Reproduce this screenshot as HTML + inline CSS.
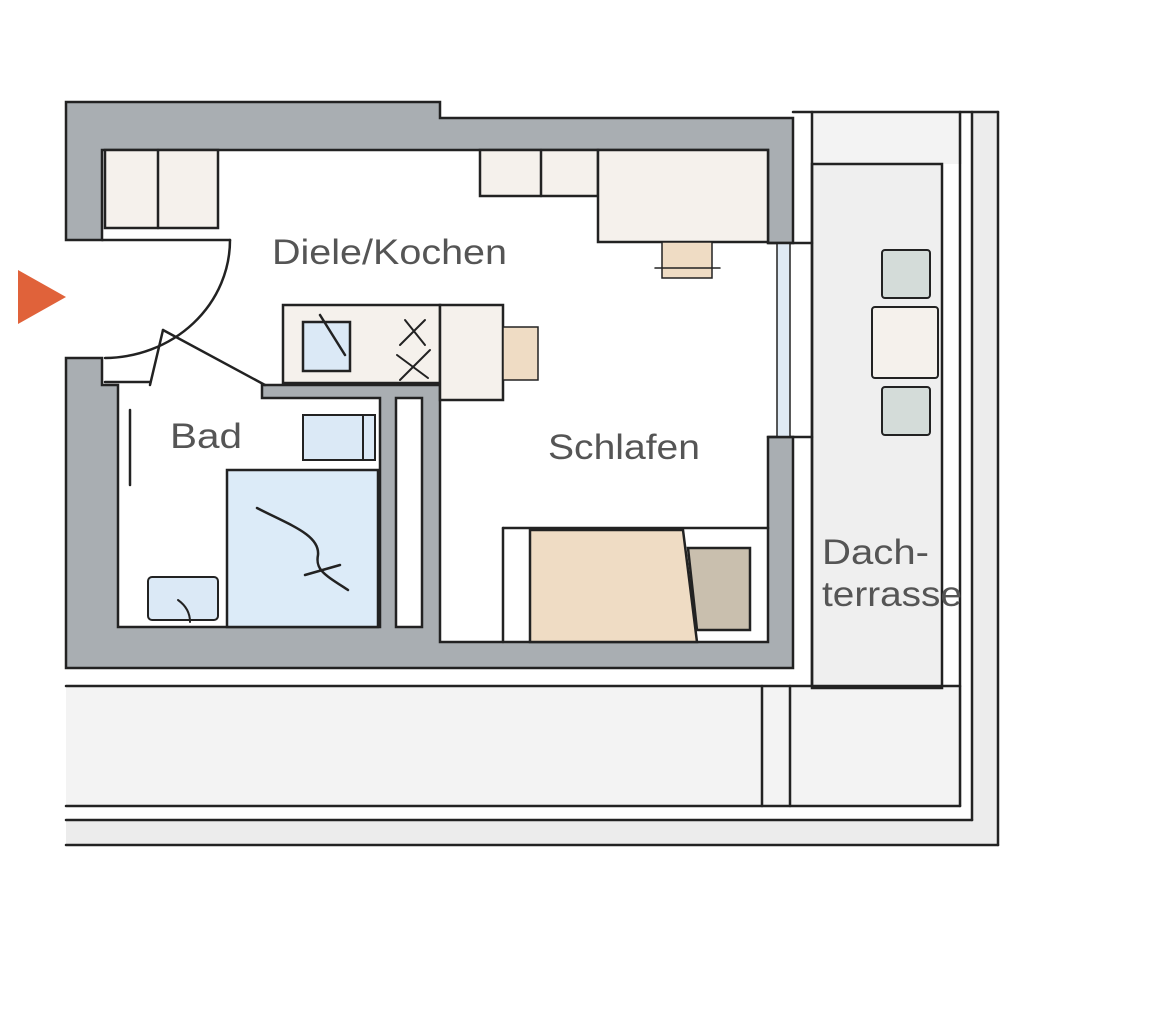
<!DOCTYPE html>
<html><head><meta charset="utf-8"><style>
html,body{margin:0;padding:0;background:#fff;}
svg{display:block;}
text{font-family:"Liberation Sans",sans-serif;fill:#555;}
</style></head><body>
<svg width="1170" height="1022" viewBox="0 0 1170 1022" xmlns="http://www.w3.org/2000/svg">
<g stroke="#222" stroke-width="2.5" stroke-linecap="round">
<!-- terrace / outer surround -->
<rect x="66" y="686" width="896" height="120" fill="#f3f3f3" stroke="none"/>
<rect x="812" y="112" width="150" height="52" fill="#f3f3f3" stroke="none"/>
<rect x="812" y="164" width="130" height="524" fill="#efefef"/>
<rect x="972" y="112" width="26" height="733" fill="#ececec" stroke="none"/>
<rect x="66" y="820" width="906" height="25" fill="#ececec" stroke="none"/>
<line x1="793" y1="112" x2="998" y2="112"/>
<line x1="998" y1="112" x2="998" y2="845"/>
<line x1="66" y1="845" x2="998" y2="845"/>
<line x1="972" y1="112" x2="972" y2="820"/>
<line x1="66" y1="820" x2="972" y2="820"/>
<line x1="960" y1="112" x2="960" y2="806"/>
<line x1="66" y1="806" x2="960" y2="806"/>
<line x1="812" y1="112" x2="812" y2="686"/>
<line x1="66" y1="686" x2="960" y2="686"/>
<line x1="762" y1="686" x2="762" y2="806"/>
<line x1="790" y1="686" x2="790" y2="806"/>
<!-- walls -->
<path d="M66,102 H440 V118 H768 V243 H793 V112 H793" fill="none" stroke="none"/>
<path d="M66,102 H440 V118 H793 V243 H768 V150 H102 V240 H66 Z" fill="#a9aeb2"/>
<path d="M768,437 H793 V668 H66 V358 H102 V385 H118 V627 H380 V398 H262 V385 H440 V642 H768 Z" fill="#a9aeb2"/>
<rect x="396" y="398" width="26" height="229" fill="#fff"/>
<rect x="777" y="243" width="13" height="194" fill="#dfeaf4" stroke-width="1.5"/>
<line x1="768" y1="243" x2="812" y2="243"/>
<line x1="768" y1="437" x2="812" y2="437"/>
<!-- door -->
<path d="M230,240 A126,118 0 0 1 105,358" fill="none"/>
<line x1="102" y1="240" x2="230" y2="240"/>
<line x1="163" y1="330" x2="265" y2="385"/>
<path d="M163,330 L150,385" fill="none"/>
<line x1="105" y1="382" x2="150" y2="382"/>
<!-- kitchen cabinets -->
<rect x="105" y="150" width="113" height="78" fill="#f5f1ec"/>
<line x1="158" y1="150" x2="158" y2="228"/>
<rect x="480" y="150" width="118" height="46" fill="#f5f1ec"/>
<line x1="541" y1="150" x2="541" y2="196"/>
<rect x="598" y="150" width="170" height="92" fill="#f5f1ec"/>
<rect x="662" y="242" width="50" height="36" fill="#efdcc4" stroke-width="1.5"/>
<line x1="655" y1="268" x2="720" y2="268" stroke-width="1.5"/>
<!-- island -->
<rect x="283" y="305" width="157" height="78" fill="#f5f1ec"/>
<rect x="303" y="322" width="47" height="49" fill="#dbe9f6"/>
<line x1="320" y1="315" x2="345" y2="355"/>
<path d="M405,320 L425,345 M425,320 L400,345 M397,355 L428,378 M430,350 L400,380" fill="none" stroke-width="2"/>
<rect x="440" y="305" width="63" height="95" fill="#f5f1ec"/>
<rect x="503" y="327" width="35" height="53" fill="#efdcc4" stroke-width="1.5"/>
<!-- bathroom -->
<line x1="130" y1="410" x2="130" y2="485"/>
<rect x="303" y="415" width="72" height="45" fill="#dbe9f6" stroke-width="2"/>
<line x1="363" y1="415" x2="363" y2="460" stroke-width="2"/>
<rect x="227" y="470" width="151" height="157" fill="#dcebf8"/>
<path d="M257,508 C290,525 320,535 318,555 C315,570 325,575 348,590 M305,575 L340,565" fill="none"/>
<rect x="148" y="577" width="70" height="43" rx="4" fill="#dbe9f6" stroke-width="2"/>
<path d="M178,600 C185,605 190,612 190,622" fill="none" stroke-width="2"/>
<!-- bed -->
<line x1="503" y1="528" x2="768" y2="528"/>
<line x1="503" y1="528" x2="503" y2="642"/>
<path d="M530,530 L683,530 L697,642 L530,642 Z" fill="#efdcc4"/>
<path d="M688,548 L750,548 L750,630 L697,630 Z" fill="#c9bfae"/>
<!-- terrace furniture -->
<rect x="882" y="250" width="48" height="48" rx="3" fill="#d4dcd9" stroke-width="2"/>
<rect x="872" y="307" width="66" height="71" rx="3" fill="#f5f1ec" stroke-width="2"/>
<rect x="882" y="387" width="48" height="48" rx="3" fill="#d4dcd9" stroke-width="2"/>
</g>
<polygon points="18,270 18,324 66,297" fill="#e0623a"/>
<text x="272" y="264" font-size="35" textLength="235" lengthAdjust="spacingAndGlyphs">Diele/Kochen</text>
<text x="170" y="448" font-size="35" textLength="72" lengthAdjust="spacingAndGlyphs">Bad</text>
<text x="548" y="459" font-size="35" textLength="152" lengthAdjust="spacingAndGlyphs">Schlafen</text>
<text x="822" y="564" font-size="35" textLength="107" lengthAdjust="spacingAndGlyphs">Dach-</text>
<text x="822" y="606" font-size="35" textLength="140" lengthAdjust="spacingAndGlyphs">terrasse</text>
</svg>
</body></html>
